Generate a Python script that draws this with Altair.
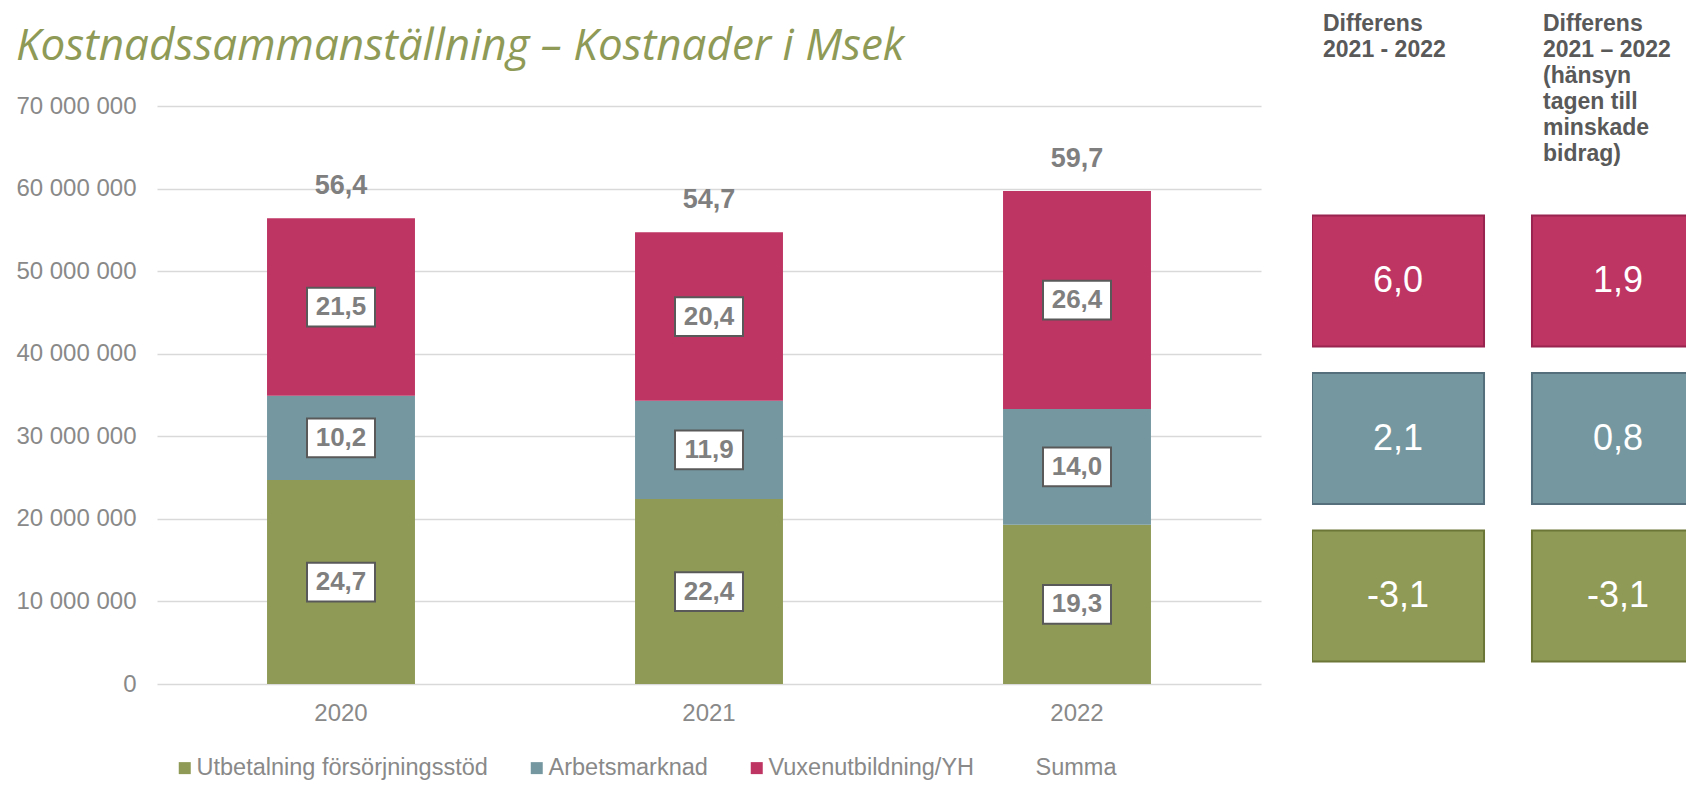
import altair as alt
import pandas as pd

# ---------------- data ----------------
YEARS = ["2020", "2021", "2022"]
CATEGORIES = ["Utbetalning försörjningsstöd", "Arbetsmarknad", "Vuxenutbildning/YH"]
LEGEND_DOMAIN = CATEGORIES + ["Summa"]
UTBETALNING = [24.7, 22.4, 19.3]        # Msek
ARBETSMARKNAD = [10.2, 11.9, 14.0]      # Msek
VUXENUTBILDNING = [21.5, 20.4, 26.4]    # Msek
SUMMA = [56.4, 54.7, 59.7]              # Msek
Y_TICKS = [0, 10000000, 20000000, 30000000, 40000000, 50000000, 60000000, 70000000]

DIFF_HEADERS = ["Differens|2021 - 2022",
                "Differens|2021 – 2022|(hänsyn|tagen till|minskade|bidrag)"]
DIFF_ROWS = ["Vuxenutbildning/YH", "Arbetsmarknad", "Utbetalning försörjningsstöd"]
DIFF_2021_2022 = [6.0, 2.1, -3.1]
DIFF_ADJUSTED = [1.9, 0.8, -3.1]

TITLE = "Kostnadssammanställning – Kostnader i Msek"

# ---------------- styles ----------------
FILL = ["#8f9a56", "#7598a0", "#be3463", "rgba(0,0,0,0)"]
BORDER = ["#6b7637", "#55707c", "#99244f"]
AXIS_GRAY = "#898989"
LABEL_GRAY = "#7f7f7f"
DARK_GRAY = "#595959"
FONT = "Liberation Sans"

rows = []
for i, yr in enumerate(YEARS):
    for k, (cat, series) in enumerate(zip(CATEGORIES, [UTBETALNING, ARBETSMARKNAD, VUXENUTBILDNING])):
        rows.append({"År": yr, "Kategori": cat, "ord": k, "Msek": series[i], "SEK": series[i] * 1e6})
df = pd.DataFrame(rows)

df_tot = pd.DataFrame({"År": YEARS, "Summa": SUMMA, "SEK": [v * 1e6 for v in SUMMA]})

side_rows = []
for header, vals in zip(DIFF_HEADERS, [DIFF_2021_2022, DIFF_ADJUSTED]):
    for cat, v in zip(DIFF_ROWS, vals):
        side_rows.append({"Kolumn": header, "Kategori": cat, "Värde": v})
df_side = pd.DataFrame(side_rows)

# ---------------- main chart ----------------
x_scale = alt.Scale(domain=YEARS, paddingInner=0.598, paddingOuter=0.299)
y_scale = alt.Scale(domain=[0, 70000000])
y_axis = alt.Axis(values=Y_TICKS, labelExpr="format(datum.value, ',.0f')", labelFontSize=24,
                  labelColor=AXIS_GRAY, labelFont=FONT, labelPadding=21, ticks=False, domain=False,
                  gridColor="#d9d9d9", gridWidth=1.5, title=None)

x_enc = alt.X("År:N", scale=x_scale, title=None,
              axis=alt.Axis(labelAngle=0, labelFontSize=24, labelColor=AXIS_GRAY, labelFont=FONT,
                            labelPadding=17, ticks=False, domain=False))

base = (alt.Chart(df)
        .transform_stack(stack="SEK", groupby=["År"], as_=["v0", "v1"],
                         sort=[alt.SortField("ord", order="ascending")])
        .transform_calculate(mid="(datum.v0 + datum.v1) / 2"))

bars = base.mark_bar().encode(
    x=x_enc,
    y=alt.Y("v0:Q", scale=y_scale, axis=y_axis),
    y2="v1:Q",
    color=alt.Color("Kategori:N",
                    scale=alt.Scale(domain=LEGEND_DOMAIN, range=FILL),
                    legend=alt.Legend(orient="none", legendX=16, legendY=650, direction="horizontal",
                                      columns=4, title=None, symbolType="square", symbolSize=144,
                                      symbolStrokeWidth=0, labelFontSize=23.5, labelColor=AXIS_GRAY,
                                      labelFont=FONT, columnPadding=37, labelOffset=0, padding=0,
                                      labelLimit=500)),
)

boxes = base.mark_point(
    shape="M-1,-0.57L1,-0.57L1,0.57L-1,0.57Z", size=4624, filled=True,
    fill="white", stroke=DARK_GRAY, strokeWidth=2, opacity=1,
).encode(x=x_enc, y=alt.Y("mid:Q", scale=y_scale, axis=y_axis))

seg_text = base.mark_text(fontSize=26, fontWeight="bold", color=LABEL_GRAY, font=FONT,
                          baseline="middle").encode(
    x=x_enc, y=alt.Y("mid:Q", scale=y_scale, axis=y_axis),
    text=alt.Text("Msek:Q", format=".1f"))

totals = alt.Chart(df_tot).mark_text(fontSize=27, fontWeight="bold", color=LABEL_GRAY, font=FONT,
                                     baseline="middle", dy=-32).encode(
    x=x_enc, y=alt.Y("SEK:Q", scale=y_scale, axis=y_axis),
    text=alt.Text("Summa:Q", format=".1f"))

main = alt.layer(bars, boxes, seg_text, totals).properties(
    width=1104, height=578,
    title=alt.Title(TITLE, anchor="start", frame="bounds", font="Open Sans", fontSize=44,
                    fontStyle="italic", fontWeight="normal", color="#8e9a56", offset=25, dx=0),
)

# ---------------- side chart ----------------
sx = alt.X("Kolumn:N", sort=DIFF_HEADERS, title=None,
           scale=alt.Scale(domain=DIFF_HEADERS, range=[0, 392], paddingInner=0.218, paddingOuter=0),
           axis=alt.Axis(orient="top", labelExpr="split(datum.label, '|')", labelAlign="left",
                         labelBaseline="top", labelAngle=0, labelPadding=94,
                         labelOffset=-75, ticks=False, tickSize=0, domain=False, labelFontSize=23,
                         labelFontWeight="bold", labelColor=DARK_GRAY, labelFont=FONT,
                         labelLineHeight=26, labelOverlap=False, labelLimit=300))
sy = alt.Y("Kategori:N", sort=DIFF_ROWS, title=None,
           scale=alt.Scale(domain=DIFF_ROWS, paddingInner=0.168, paddingOuter=0.419, align=0.83),
           axis=None)

side_rect = alt.Chart(df_side).mark_rect(strokeWidth=2, clip=True).encode(
    x=sx, y=sy,
    color=alt.Color("Kategori:N", scale=alt.Scale(domain=CATEGORIES, range=FILL[:3]), legend=None),
    stroke=alt.Stroke("Kategori:N", scale=alt.Scale(domain=CATEGORIES, range=BORDER), legend=None),
)
side_text = alt.Chart(df_side).mark_text(fontSize=36, color="white", font=FONT,
                                         baseline="middle").encode(
    x=sx, y=sy, text=alt.Text("Värde:Q", format=".1f"))

side = alt.layer(side_rect, side_text).properties(width=374, height=578)

chart = (alt.hconcat(main, side, spacing=51)
         .resolve_scale(color="independent", stroke="independent", x="independent", y="independent")
         .properties(padding={"left": 7, "top": 4, "right": -18, "bottom": 0})
         .configure(font=FONT)
         .configure_view(strokeWidth=0))

chart.save("out.html", embed_options={
    "renderer": "svg", "actions": False,
    "formatLocale": {"decimal": ",", "thousands": "\u00a0", "grouping": [3],
                     "currency": ["", "\u00a0kr"], "minus": "-"},
})
